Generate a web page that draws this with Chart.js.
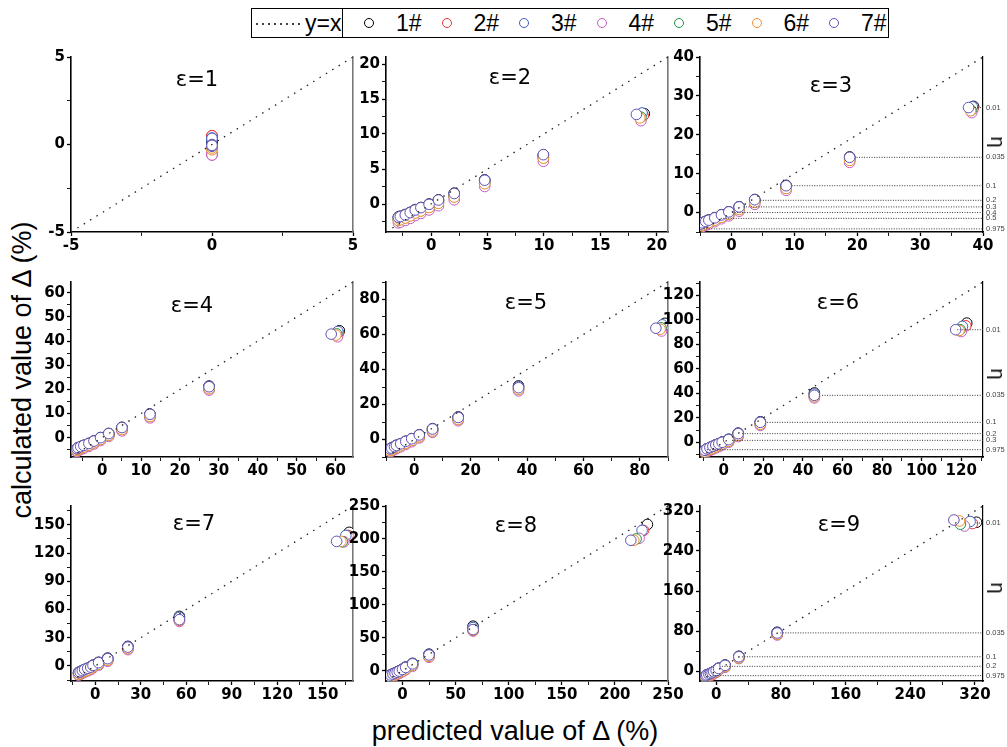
<!DOCTYPE html>
<html>
<head>
<meta charset="utf-8">
<script src="https://cdn.jsdelivr.net/npm/chart.js@4.4.1/dist/chart.umd.min.js"></script>
<style>
  body { margin: 0; background: #fff; }
  #wrap { position: relative; width: 1007px; height: 747px; background: #fff; overflow: hidden;
          font-family: 'Liberation Sans', Arial, sans-serif; color: #000; }
  #wrap canvas { position: absolute; }
  .ptitle { position: absolute; font-family: 'DejaVu Sans', sans-serif; font-size: 21px; line-height: 1; white-space: nowrap; transform: translate(-50%, -50%); }
  .eta { position: absolute; font-size: 20px; line-height: 1; transform: translate(-50%, -50%) rotate(90deg); }
  .axtitle { position: absolute; font-size: 27px; line-height: 1; white-space: nowrap; transform: translate(-50%, -50%); }
  #legend { position: absolute; left: 251px; top: 8px; width: 636px; height: 28px; border: 1px solid #000; }
  #legend .lsep { position: absolute; left: 90px; top: 0; width: 1px; height: 28px; background: #000; }
  #legend .ldash { position: absolute; left: 4px; top: 14px; width: 48px; height: 1.5px;
                   background: repeating-linear-gradient(90deg, #444 0 2px, transparent 2px 6px); }
  #legend .ltxt { position: absolute; top: 14px; font-size: 23px; line-height: 1; transform: translateY(-50%); white-space: nowrap; }
  #legend .ldot { position: absolute; top: 9px; width: 8px; height: 8px; border-radius: 50%; border: 1.3px solid; }
</style>
</head>
<body>
<div id="wrap">
  <div id="legend">
    <div class="ldash"></div>
    <div class="ltxt" style="left:53px">y=x</div>
    <div class="lsep"></div>
  </div>
  <div class="axtitle" style="left:22px; top:370px; transform: translate(-50%, -50%) rotate(-90deg);">calculated value of Δ (%)</div>
  <div class="axtitle" style="left:515px; top:731px;">predicted value of Δ (%)</div>
</div>
<script>
// Series
const seriesNames = ['1#', '2#', '3#', '4#', '5#', '6#', '7#'];
const seriesColors = ['#000000', '#e8333b', '#3f5fbf', '#c45cc0', '#1a9447', '#f28c2c', '#6252b5'];

// ε values of the nine panels
const epsValues = [1, 2, 3, 4, 5, 6, 7, 8, 9];

// axis limits (same on x and y) and tick labels of each panel
const axisMin = [-5, -4, -5, -8, -10, -12, -16, -15.5, -20];
const axisMax = [5, 21, 40, 64.5, 90, 131, 170, 250, 330];
const tickSets = [
    [-5, 0, 5],
    [0, 5, 10, 15, 20],
    [0, 10, 20, 30, 40],
    [0, 10, 20, 30, 40, 50, 60],
    [0, 20, 40, 60, 80],
    [0, 20, 40, 60, 80, 100, 120],
    [0, 30, 60, 90, 120, 150],
    [0, 50, 100, 150, 200, 250],
    [0, 80, 160, 240, 320]
];

// predicted values (shared by the series), then the last point per series
const e1Pred = [0, 0, 0];
const e1Top = [0, 0, 0, 0, 0, 0, 0];
const e1Calc = [
    [0.2, 0.1, 0.0, 0.15],
    [0.5, 0.48, 0.45, 0.5],
    [0.37, 0.3, 0.25, 0.35],
    [-0.6, -0.55, -0.5, -0.6],
    [-0.15, -0.2, -0.1, -0.2],
    [-0.2, -0.25, -0.3, -0.2],
    [-0.07, 0.0, -0.1, -0.05]
];

const e2Pred = [-2.9, -2.73, -2.29, -1.85, -1.41, -0.91, -0.18, 0.65, 2.05, 4.75, 9.95];
const e2Top = [18.9, 18.8, 18.7, 18.6, 18.6, 18.5, 18.2];
const e2Calc = [
    [-1.85, -1.75, -1.5, -1.2, -0.8, -0.5, 0, 0.6, 1.55, 3.45, 7.0, 12.9],
    [-2.15, -2.05, -1.8, -1.5, -1.1, -0.8, -0.3, 0.3, 1.2, 3.1, 6.7, 12.6],
    [-1.95, -1.85, -1.6, -1.3, -0.9, -0.6, -0.1, 0.5, 1.45, 3.35, 6.95, 13.0],
    [-2.7, -2.6, -2.35, -2.05, -1.65, -1.35, -0.85, -0.25, 0.6, 2.5, 6.1, 11.9],
    [-2.3, -2.2, -1.95, -1.65, -1.25, -0.95, -0.45, 0.15, 1.05, 2.95, 6.6, 12.4],
    [-2.35, -2.25, -2.0, -1.7, -1.3, -1.0, -0.5, 0.1, 1.0, 2.9, 6.55, 12.3],
    [-1.9, -1.79, -1.56, -1.23, -0.85, -0.52, -0.05, 0.57, 1.5, 3.4, 7.05, 12.8]
];

const e3Pred = [-4.9, -4.66, -4.1, -3.6, -2.65, -1.59, -0.42, 1.22, 3.7, 8.7, 18.8];
const e3Top = [38.5, 38.4, 38.3, 38.2, 38.1, 38.0, 37.7];
const e3Calc = [
    [-2.95, -2.6, -2.25, -1.9, -1.3, -0.55, 0.2, 1.5, 3.35, 7.0, 14.3, 27.3],
    [-3.3, -2.95, -2.6, -2.25, -1.65, -0.9, -0.15, 1.1, 2.9, 6.5, 13.7, 26.6],
    [-3.1, -2.75, -2.4, -2.05, -1.45, -0.7, 0.05, 1.35, 3.2, 6.8, 14.1, 27.2],
    [-4.0, -3.65, -3.3, -2.95, -2.35, -1.6, -0.85, 0.35, 2.1, 5.7, 12.9, 25.7],
    [-3.5, -3.15, -2.8, -2.45, -1.85, -1.1, -0.35, 0.9, 2.7, 6.3, 13.5, 26.3],
    [-3.6, -3.25, -2.9, -2.55, -1.95, -1.2, -0.45, 0.8, 2.6, 6.2, 13.4, 26.2],
    [-3.0, -2.64, -2.3, -1.96, -1.36, -0.6, 0.17, 1.45, 3.3, 6.9, 14.2, 27.0]
];

const e4Pred = [-6.5, -6.2, -5.5, -4.7, -3.4, -2.1, -0.4, 1.7, 5.1, 12.3, 27.5];
const e4Top = [61.0, 60.8, 60.6, 60.5, 60.3, 60.1, 58.9];
const e4Calc = [
    [-4.55, -4.15, -3.65, -3.15, -2.35, -1.35, 0.05, 1.75, 4.3, 9.8, 21.4, 44.3],
    [-5.0, -4.6, -4.1, -3.6, -2.8, -1.8, -0.4, 1.3, 3.7, 9.1, 20.6, 43.3],
    [-4.7, -4.3, -3.8, -3.3, -2.5, -1.5, -0.1, 1.6, 4.1, 9.6, 21.2, 44.0],
    [-5.8, -5.4, -4.9, -4.4, -3.6, -2.6, -1.2, 0.5, 2.8, 8.2, 19.7, 41.8],
    [-5.2, -4.8, -4.3, -3.8, -3.0, -2.0, -0.6, 1.1, 3.5, 8.9, 20.4, 43.0],
    [-5.3, -4.9, -4.4, -3.9, -3.1, -2.1, -0.7, 1.0, 3.4, 8.8, 20.3, 42.5],
    [-4.6, -4.2, -3.7, -3.2, -2.4, -1.4, 0, 1.7, 4.2, 9.7, 21.1, 42.9]
];

const e5Pred = [-8.5, -8.0, -7.0, -6.3, -4.8, -3.0, -0.9, 1.8, 6.5, 15.6, 37.0];
const e5Top = [88.9, 88.3, 88.0, 87.7, 87.5, 87.2, 85.7];
const e5Calc = [
    [-5.3, -4.8, -4.0, -3.3, -2.4, -1.0, 0.5, 2.7, 6.2, 12.9, 30.6, 66.4],
    [-6.0, -5.5, -4.7, -4.0, -3.1, -1.7, -0.2, 2.0, 5.3, 11.9, 29.2, 64.5],
    [-5.5, -5.0, -4.2, -3.5, -2.6, -1.2, 0.3, 2.5, 6.0, 12.7, 30.2, 65.5],
    [-7.1, -6.6, -5.8, -5.1, -4.2, -2.8, -1.3, 0.9, 4.1, 10.7, 27.8, 62.0],
    [-6.3, -5.8, -5.0, -4.3, -3.4, -2.0, -0.5, 1.7, 5.0, 11.6, 28.8, 63.8],
    [-6.4, -5.9, -5.1, -4.4, -3.5, -2.1, -0.6, 1.6, 4.9, 11.5, 28.6, 63.0],
    [-5.4, -4.9, -4.1, -3.4, -2.5, -1.1, 0.4, 2.6, 6.0, 12.6, 29.6, 63.6]
];

const e6Pred = [-9.5, -8.5, -7.0, -5.5, -4.0, -2.5, -0.8, 2.5, 7.3, 18.5, 45.8];
const e6Top = [122.8, 122.3, 120.6, 120.0, 119.4, 118.9, 117.2];
const e6Calc = [
    [-6.4, -5.3, -4.2, -3.2, -2.1, -1.1, 0.2, 2.5, 7.5, 16.8, 40.3, 97.4],
    [-7.3, -6.2, -5.1, -4.1, -3.0, -2.0, -0.7, 1.5, 6.3, 15.5, 38.2, 95.2],
    [-6.6, -5.5, -4.4, -3.4, -2.3, -1.3, 0, 2.3, 7.2, 16.5, 39.5, 94.7],
    [-8.8, -7.7, -6.6, -5.6, -4.5, -3.5, -2.2, 0, 4.7, 13.8, 36.3, 90.5],
    [-7.7, -6.6, -5.5, -4.5, -3.4, -2.4, -1.1, 1.1, 5.9, 15.0, 37.5, 92.0],
    [-7.9, -6.8, -5.7, -4.7, -3.6, -2.6, -1.3, 0.9, 5.7, 14.8, 37.2, 91.4],
    [-6.5, -5.4, -4.3, -3.3, -2.2, -1.2, 0, 2.2, 7.1, 16.3, 38.4, 92.0]
];

const e7Pred = [-11, -10, -8.5, -7, -5, -3, -1.5, 2.2, 8.2, 21.5, 55.5];
const e7Top = [167.5, 166.8, 165.3, 164.0, 163.0, 162.0, 159.2];
const e7Calc = [
    [-6.9, -6.2, -4.9, -3.7, -2.4, -1.0, 0.8, 3.9, 8.3, 20.8, 52.7, 142.0],
    [-8.0, -7.3, -6.0, -4.8, -3.5, -2.1, -0.3, 2.6, 6.9, 19.2, 49.8, 138.7],
    [-7.1, -6.4, -5.1, -3.9, -2.6, -1.2, 0.6, 3.6, 8.0, 20.4, 51.5, 138.7],
    [-9.8, -9.1, -7.8, -6.6, -5.3, -3.9, -2.1, 0.8, 5.0, 17.3, 47.3, 132.0],
    [-8.6, -7.9, -6.6, -5.4, -4.1, -2.7, -0.9, 2.0, 6.3, 18.6, 48.8, 132.0],
    [-8.8, -8.1, -6.8, -5.6, -4.3, -2.9, -1.1, 1.8, 6.1, 18.4, 48.4, 132.4],
    [-7.0, -6.3, -5.0, -3.8, -2.5, -1.2, 0.5, 3.5, 7.7, 20.0, 49.2, 132.4]
];

const e8Pred = [-13, -11, -9, -7, -5, -3, 0, 3, 9.5, 25, 66.5];
const e8Top = [230.6, 227.0, 225.6, 222.8, 220.0, 217.8, 215.0];
const e8Calc = [
    [-8.3, -6.3, -4.8, -3.3, -1.8, -0.2, 2.4, 5.6, 11.3, 25.2, 67.7, 222.0],
    [-9.8, -7.8, -6.3, -4.8, -3.3, -1.7, 0.8, 3.8, 9.3, 23.0, 63.5, 213.0],
    [-8.6, -6.6, -5.1, -3.6, -2.1, -0.5, 2.1, 5.2, 10.8, 24.6, 65.5, 213.0],
    [-12.0, -10.0, -8.5, -7.0, -5.5, -3.9, -1.4, 1.6, 7.0, 20.5, 60.2, 201.0],
    [-10.5, -8.5, -7.0, -5.5, -4.0, -2.4, 0.1, 3.1, 8.6, 22.2, 62.0, 200.0],
    [-10.8, -8.8, -7.3, -5.8, -4.3, -2.7, -0.2, 2.8, 8.3, 21.8, 61.5, 198.0],
    [-8.5, -6.5, -5.0, -3.5, -2.0, -0.5, 2.0, 5.0, 10.5, 24.0, 62.5, 198.0]
];

const e9Pred = [-13, -11.6, -9, -7, -5, -3, 0, 3, 11, 28, 75.5];
const e9Top = [322, 317, 314, 307, 302, 301, 294];
const e9Calc = [
    [-9.3, -7.8, -6.3, -4.8, -3.3, -1.2, 1.5, 5.6, 12.0, 29.5, 77.5, 297.5],
    [-11.0, -9.5, -8.0, -6.5, -5.0, -2.9, -0.3, 3.7, 10.0, 27.2, 74.8, 295.0],
    [-9.6, -8.1, -6.6, -5.1, -3.6, -1.5, 1.1, 5.2, 11.5, 28.8, 76.5, 299.0],
    [-13.5, -12.0, -10.5, -9.0, -7.5, -5.4, -2.8, 1.2, 7.5, 24.8, 72.0, 290.0],
    [-11.8, -10.3, -8.8, -7.3, -5.8, -3.7, -1.1, 2.9, 9.2, 26.4, 74.0, 293.6],
    [-12.0, -10.5, -9.0, -7.5, -6.0, -3.9, -1.3, 2.7, 9.0, 26.2, 73.5, 300.0],
    [-9.5, -8.0, -6.5, -5.0, -3.5, -1.5, 1.0, 5.0, 11.3, 28.5, 76.0, 302.0]
];

// η reference lines (right-hand panels): label, calculated value, predicted value where the line starts
const e3Eta = ['0.01', '0.035', '0.1', '0.2', '0.3', '0.4', '0.5', '0.975'];
const e3EtaY = [27.0, 14.2, 6.9, 3.15, 1.45, 0, -1.5, -4.2];
const e3EtaX = [38.7, 19.9, 9.6, 4.6, 1.9, 0.1, -1.7, -4.4];
const e6Eta = ['0.01', '0.035', '0.1', '0.2', '0.3', '0.975'];
const e6EtaY = [92, 38.4, 16.3, 7.1, 1.6, -6];
const e6EtaX = [118, 49.7, 21.9, 9.3, 4.2, -8.4];
const e9Eta = ['0.01', '0.035', '0.1', '0.2', '0.975'];
const e9EtaY = [296, 76.2, 28.5, 9.3, -9.3];
const e9EtaX = [322, 79.3, 31.8, 7, -7.4];

const predSets = [e1Pred, e2Pred, e3Pred, e4Pred, e5Pred, e6Pred, e7Pred, e8Pred, e9Pred];
const topSets = [e1Top, e2Top, e3Top, e4Top, e5Top, e6Top, e7Top, e8Top, e9Top];
const calcSets = [e1Calc, e2Calc, e3Calc, e4Calc, e5Calc, e6Calc, e7Calc, e8Calc, e9Calc];
const etaSets = { 2: [e3Eta, e3EtaY, e3EtaX], 5: [e6Eta, e6EtaY, e6EtaX], 8: [e9Eta, e9EtaY, e9EtaX] };

// layout of the 3x3 grid (plot areas, px)
const colLeft = [71, 386, 700];
const colWidth = [282, 282, 283];
const rowTop = [56, 281, 505];
const plotH = 176;
const titlePos = [[197, 79], [510, 77], [831, 85], [192, 305], [526, 302], [838, 302], [194, 523], [516, 525], [839, 524]];
const etaTitleY = [142, 374, 588];

Chart.defaults.font.family = "'Liberation Sans', Arial, sans-serif";
Chart.defaults.color = '#000';

const wrap = document.getElementById('wrap');
const legend = document.getElementById('legend');

// legend items
seriesNames.forEach((name, i) => {
    const cx = 117 + 77.5 * i;
    const dot = document.createElement('div');
    dot.className = 'ldot';
    dot.style.left = (cx - 5) + 'px';
    dot.style.borderColor = seriesColors[i];
    legend.appendChild(dot);
    const t = document.createElement('div');
    t.className = 'ltxt';
    t.style.left = (cx + 27) + 'px';
    t.textContent = name;
    legend.appendChild(t);
});

// major ticks with one unlabelled minor tick between each pair
function withMinor(major, lo, hi) {
    const step = major[1] - major[0];
    const out = [];
    for (let v = major[0] - step / 2; v <= hi + 1e-9; v += step / 2) {
        if (v >= lo - 1e-9) out.push({ value: v });
    }
    return out;
}

const tickFont = { family: "'DejaVu Sans', sans-serif", size: 15, weight: 'bold' };

epsValues.forEach((eps, k) => {
    const col = k % 3, row = Math.floor(k / 3);
    const lo = axisMin[k], hi = axisMax[k];
    const eta = etaSets[k];
    const rightW = eta ? 24 : 2;
    const padR = eta ? 0 : 16;

    const cv = document.createElement('canvas');
    cv.width = 40 + colWidth[col] + rightW + padR;
    cv.height = 10 + plotH + 30;
    cv.style.left = (colLeft[col] - 40) + 'px';
    cv.style.top = (rowTop[row] - 10) + 'px';
    wrap.appendChild(cv);

    const datasets = [];
    datasets.push({
        label: 'y=x',
        data: [{ x: lo, y: lo }, { x: hi, y: hi }],
        showLine: true, borderColor: '#222', borderWidth: 1.3, borderDash: [1.5, 6],
        pointRadius: 0, order: 0
    });
    if (eta) {
        eta[1].forEach((y, i) => {
            datasets.push({
                data: [{ x: eta[2][i], y: y }, { x: hi, y: y }],
                showLine: true, borderColor: '#333', borderWidth: 1, borderDash: [1, 1.5],
                pointRadius: 0, order: 0
            });
        });
    }
    const pred = predSets[k], top = topSets[k];
    seriesNames.forEach((name, s) => {
        datasets.push({
            label: name,
            data: calcSets[k][s].map((y, i) => ({ x: i < pred.length ? pred[i] : top[s], y: y })),
            borderColor: seriesColors[s],
            backgroundColor: '#fff',
            pointRadius: 5.3,
            pointBorderWidth: 1,
            order: 7 - s
        });
    });

    const ticks = tickSets[k];
    const isMajor = v => ticks.some(t => Math.abs(t - v) < 1e-9);
    const label = v => isMajor(v) ? String(v) : '';
    const tickLen = 4;

    new Chart(cv, {
        type: 'scatter',
        data: { datasets: datasets },
        options: {
            responsive: false,
            animation: false,
            layout: { padding: { top: 10, right: padR, left: 0, bottom: 0 } },
            plugins: { legend: { display: false }, tooltip: { enabled: false } },
            scales: {
                x: {
                    type: 'linear', min: lo, max: hi,
                    afterBuildTicks: sc => { sc.ticks = withMinor(ticks, lo, hi); },
                    afterFit: sc => { sc.height = 30; },
                    grid: { drawOnChartArea: false, tickLength: tickLen, tickColor: '#000',
                            tickWidth: c => isMajor(c.tick.value) ? 1.3 : 0.9 },
                    border: { color: '#000', width: 1.6 },
                    ticks: { autoSkip: false, maxRotation: 0, padding: 1, font: tickFont,
                             callback: v => label(v) }
                },
                y: {
                    type: 'linear', position: 'left', min: lo, max: hi,
                    afterBuildTicks: sc => { sc.ticks = withMinor(ticks, lo, hi); },
                    afterFit: sc => { sc.width = 40; },
                    grid: { drawOnChartArea: false, tickLength: tickLen, tickColor: '#000',
                            tickWidth: c => isMajor(c.tick.value) ? 1.3 : 0.9 },
                    border: { color: '#000', width: 1.6 },
                    ticks: { autoSkip: false, padding: 2, font: tickFont,
                             callback: v => label(v) }
                },
                y2: {
                    type: 'linear', position: 'right', min: lo, max: hi,
                    afterBuildTicks: sc => { sc.ticks = eta ? eta[1].map(v => ({ value: v })) : []; },
                    afterFit: sc => { sc.width = rightW; },
                    grid: { display: false, drawTicks: false },
                    border: { color: eta ? '#000' : '#777', width: eta ? 1.2 : 1.6 },
                    ticks: {
                        display: !!eta, autoSkip: false, padding: 3, color: '#444',
                        font: { size: 7.5 },
                        callback: (v, i) => eta ? eta[0][i] : ''
                    }
                }
            }
        }
    });

    const t = document.createElement('div');
    t.className = 'ptitle';
    t.style.left = titlePos[k][0] + 'px';
    t.style.top = titlePos[k][1] + 'px';
    t.textContent = 'ε=' + eps;
    wrap.appendChild(t);

    if (eta) {
        const e = document.createElement('div');
        e.className = 'eta';
        e.style.left = '998px';
        e.style.top = etaTitleY[row] + 'px';
        e.textContent = 'η';
        wrap.appendChild(e);
    }
});
</script>
</body>
</html>
